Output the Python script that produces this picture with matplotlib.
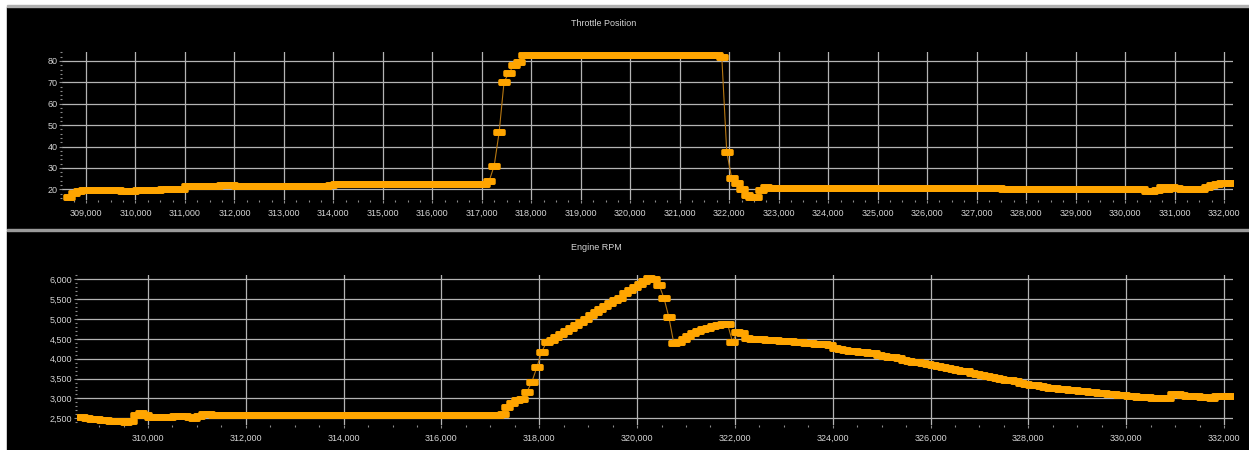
import numpy as np
import matplotlib
matplotlib.use("Agg")
import matplotlib.pyplot as plt
from matplotlib.patches import Rectangle
from matplotlib.path import Path
from matplotlib.ticker import MultipleLocator, FuncFormatter

# ─────────────────────────────────────────────
# LOGGED DATA  (one sample every 100 ms)
# ─────────────────────────────────────────────
t_start = 308650
t_step = 100

throttle = [
    16.3, 18.2, 19.2, 19.6, 19.7, 19.7, 19.7, 19.7, 19.6, 19.6,
    19.6, 19.0, 19.0, 19.3, 19.5, 19.6, 19.6, 19.7, 19.8, 19.9,
    19.9, 20.0, 20.0, 20.1, 21.4, 21.7, 21.7, 21.7, 21.7, 21.6,
    21.6, 21.8, 21.8, 21.8, 21.7, 21.5, 21.5, 21.5, 21.4, 21.6,
    21.6, 21.6, 21.6, 21.6, 21.6, 21.6, 21.6, 21.6, 21.6, 21.6,
    21.6, 21.6, 21.7, 22.2, 22.3, 22.3, 22.3, 22.3, 22.3, 22.3,
    22.3, 22.3, 22.3, 22.3, 22.3, 22.3, 22.3, 22.3, 22.3, 22.3,
    22.3, 22.3, 22.3, 22.3, 22.3, 22.3, 22.3, 22.3, 22.3, 22.3,
    22.3, 22.3, 22.3, 22.3, 22.3, 24.0, 31.0, 46.7, 70.4, 74.3,
    78.3, 79.4, 82.6, 82.6, 82.6, 82.6, 82.6, 82.6, 82.6, 82.6,
    82.6, 82.6, 82.6, 82.6, 82.6, 82.6, 82.6, 82.6, 82.6, 82.6,
    82.6, 82.6, 82.6, 82.6, 82.6, 82.6, 82.6, 82.6, 82.6, 82.6,
    82.6, 82.6, 82.6, 82.6, 82.6, 82.6, 82.6, 82.6, 82.6, 82.6,
    82.6, 82.6, 82.0, 37.5, 25.2, 22.8, 20.0, 17.5, 16.5, 16.5,
    19.7, 20.9, 20.8, 20.8, 20.8, 20.8, 20.8, 20.8, 20.8, 20.8,
    20.8, 20.8, 20.8, 20.8, 20.8, 20.8, 20.8, 20.8, 20.8, 20.8,
    20.8, 20.8, 20.8, 20.8, 20.8, 20.8, 20.8, 20.8, 20.8, 20.8,
    20.8, 20.8, 20.8, 20.8, 20.8, 20.8, 20.8, 20.8, 20.8, 20.8,
    20.8, 20.8, 20.8, 20.8, 20.8, 20.8, 20.8, 20.8, 20.8, 20.1,
    20.1, 20.1, 20.1, 20.1, 20.1, 20.1, 20.1, 20.1, 20.1, 20.1,
    20.1, 20.1, 20.1, 20.1, 20.1, 20.1, 20.1, 20.1, 20.1, 20.1,
    20.1, 20.1, 20.1, 20.1, 20.1, 20.1, 20.1, 20.1, 19.4, 19.4,
    19.8, 21.0, 20.3, 20.9, 20.5, 20.1, 20.1, 20.1, 20.1, 20.3,
    21.0, 21.9, 22.4, 22.7, 23.0, 23.1,
]

rpm = [
    2540, 2500, 2475, 2470, 2460, 2455, 2440, 2430, 2420, 2415,
    2420, 2590, 2625, 2590, 2545, 2545, 2540, 2540, 2545, 2550,
    2555, 2560, 2540, 2505, 2560, 2600, 2605, 2585, 2580, 2580,
    2580, 2585, 2585, 2580, 2580, 2580, 2575, 2575, 2580, 2580,
    2585, 2580, 2580, 2580, 2590, 2580, 2580, 2575, 2580, 2590,
    2580, 2580, 2580, 2580, 2585, 2590, 2585, 2580, 2580, 2580,
    2580, 2580, 2585, 2580, 2580, 2580, 2580, 2580, 2580, 2580,
    2580, 2580, 2580, 2580, 2580, 2580, 2580, 2580, 2580, 2580,
    2580, 2580, 2580, 2580, 2580, 2580, 2600, 2793, 2877, 2970,
    2978, 3170, 3422, 3784, 4177, 4420, 4480, 4550, 4620, 4700,
    4770, 4850, 4930, 5010, 5100, 5170, 5250, 5320, 5400, 5470,
    5540, 5650, 5720, 5810, 5880, 5960, 6020, 6010, 5857, 5522,
    5043, 4390, 4420, 4500, 4580, 4640, 4690, 4740, 4780, 4820,
    4860, 4880, 4870, 4430, 4680, 4640, 4530, 4495, 4490, 4485,
    4480, 4470, 4465, 4455, 4450, 4445, 4430, 4420, 4405, 4395,
    4380, 4370, 4360, 4345, 4280, 4235, 4215, 4205, 4195, 4180,
    4165, 4150, 4135, 4100, 4065, 4055, 4040, 4015, 3970, 3930,
    3915, 3905, 3885, 3865, 3845, 3820, 3795, 3770, 3745, 3715,
    3700, 3680, 3650, 3615, 3585, 3565, 3545, 3525, 3500, 3475,
    3460, 3430, 3400, 3375, 3350, 3330, 3310, 3290, 3275, 3260,
    3245, 3230, 3215, 3205, 3190, 3180, 3165, 3150, 3140, 3125,
    3110, 3100, 3090, 3080, 3065, 3055, 3045, 3035, 3025, 3015,
    3005, 3000, 3010, 3120, 3110, 3085, 3070, 3065, 3060, 3045,
    3025, 3005, 3050, 3060, 3060, 3055,
]

time = t_start + t_step * np.arange(len(throttle))

# ─────────────────────────────────────────────
# STYLE
# ─────────────────────────────────────────────
W, H = 1249, 450
ORANGE = "#ffa500"
LINK = "#b87812"
GRID = "#b4b4b4"
TICK = "#8c8c8c"
LABEL = "#d4d4d4"
FONT = "Liberation Sans"
FS = 6.5

plt.rcParams["font.family"] = FONT


def fx(px):
    return px / W


def fy(py):
    return 1 - py / H


def axes_box(left, top, right, bottom):
    """Axes rectangle in figure fractions from pixel edges."""
    return [fx(left), fy(bottom), fx(right) - fx(left), fy(top) - fy(bottom)]


def panel(left, top, bottom, color):
    """Filled strip behind the axes, pixel edges measured from the top."""
    fig.patches.append(Rectangle((fx(left), fy(bottom)), 1 - fx(left),
                                 fy(top) - fy(bottom), transform=fig.transFigure,
                                 color=color, zorder=-10))


def pill_marker(half_w=1.8, half_h=1.0, r=0.5, n=8):
    """Wide rounded-rectangle marker, like the logger's sample blobs."""
    corners = [(half_w - r, half_h - r, 0), (-(half_w - r), half_h - r, 90),
               (-(half_w - r), -(half_h - r), 180), (half_w - r, -(half_h - r), 270)]
    verts = []
    for cx, cy, a0 in corners:
        for a in np.radians(np.linspace(a0, a0 + 90, n)):
            verts.append((cx + r * np.cos(a), cy + r * np.sin(a)))
    verts.append(verts[0])
    codes = [Path.MOVETO] + [Path.LINETO] * (len(verts) - 2) + [Path.CLOSEPOLY]
    return Path(verts, codes)


PILL = pill_marker()

fig = plt.figure(figsize=(W / 100, H / 100), dpi=100, facecolor="white")

# panel backgrounds + separators
panel(7, 7, 229, "black")
panel(7, 231, 450, "black")
panel(7, 229, 231, "#9a9a9a")
panel(7, 5, 7, "#b0b0b0")

thousands = FuncFormatter(lambda v, _: f"{v:,.0f}")


def style_axes(ax, xmajor, xminor, ymajor, yminor):
    ax.set_facecolor("none")
    for s in ax.spines.values():
        s.set_visible(False)
    ax.xaxis.set_major_locator(MultipleLocator(xmajor))
    ax.xaxis.set_minor_locator(MultipleLocator(xminor))
    ax.yaxis.set_major_locator(MultipleLocator(ymajor))
    ax.yaxis.set_minor_locator(MultipleLocator(yminor))
    ax.xaxis.set_major_formatter(thousands)
    ax.yaxis.set_major_formatter(thousands)
    ax.grid(True, which="major", color=GRID, linewidth=0.9)
    ax.set_axisbelow(True)
    ax.tick_params(which="major", length=2.2, width=0.8, color=TICK,
                   labelcolor=LABEL, labelsize=FS)
    ax.tick_params(axis="x", which="major", pad=4)
    ax.tick_params(axis="y", which="major", pad=1)
    ax.tick_params(which="minor", length=1.2, width=0.8, color=TICK)


def draw_series(ax, x, y):
    ax.plot(x, y, color=LINK, linewidth=0.8, zorder=2)
    ax.plot(x, y, linestyle="none", marker=PILL, markersize=9,
            markerfacecolor=ORANGE, markeredgecolor=ORANGE,
            markeredgewidth=0, zorder=3)


# ── Throttle Position ──
ax1 = fig.add_axes(axes_box(62, 52, 1233, 200))
draw_series(ax1, time, throttle)
ax1.set_xlim(308515, 332182)
ax1.set_ylim(14.98, 84.2)
style_axes(ax1, 1000, 250, 10, 2)
fig.text(fx(604), fy(23), "Throttle Position", ha="center", va="center",
         color=LABEL, fontsize=FS)

# ── Engine RPM ──
ax2 = fig.add_axes(axes_box(77, 275, 1233, 425))
draw_series(ax2, time, rpm)
ax2.set_xlim(308548, 332184)
ax2.set_ylim(2331, 6108)
style_axes(ax2, 2000, 500, 500, 100)
fig.text(fx(596), fy(247), "Engine RPM", ha="center", va="center",
         color=LABEL, fontsize=FS)

fig.savefig("out.png", dpi=100, facecolor=fig.get_facecolor())
